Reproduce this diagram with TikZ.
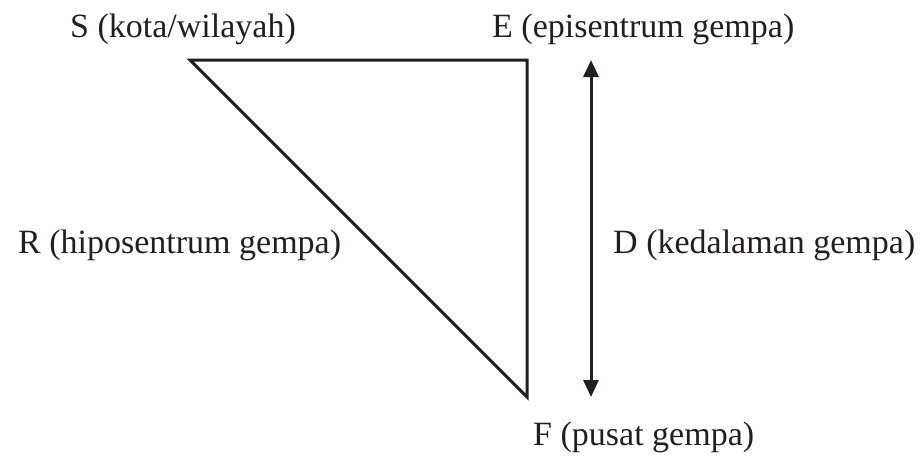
\documentclass[tikz,border=0pt]{standalone}
\usepackage{fontspec}
\setmainfont{Liberation Serif}
\usetikzlibrary{arrows.meta}
\definecolor{ink}{RGB}{35,31,32}
\tikzset{
  lbl/.style={anchor=base west, inner sep=0pt, text=ink, font=\fontsize{34}{38}\selectfont},
  edge/.style={draw=ink, line width=3pt, line join=miter},
  dim/.style={draw=ink, line width=3pt, {Triangle[length=17pt,width=15pt]}-{Triangle[length=17pt,width=15pt]}}
}
\begin{document}
\begin{tikzpicture}[x=1pt,y=-1pt]
\useasboundingbox (0,0) rectangle (921,461);
% labels
\node[lbl] (s) at (70,37) {S (kota/wilayah)};
\node[lbl] (e) at (492,37) {E (episentrum gempa)};
\node[lbl] (r) at (18,253) {R (hiposentrum gempa)};
\node[lbl] (d) at (613,253) {D (kedalaman gempa)};
\node[lbl] (f) at (533,445) {F (pusat gempa)};
% triangle
\coordinate (S) at (190,60);
\coordinate (E) at (527,60);
\coordinate (F) at (527,397);
\draw[edge] (S) -- (E) -- (F) -- cycle;
% depth arrow
\coordinate (Dt) at (591,60);
\coordinate (Db) at (591,397);
\draw[dim] (Dt) -- (Db);
\end{tikzpicture}
\end{document}
